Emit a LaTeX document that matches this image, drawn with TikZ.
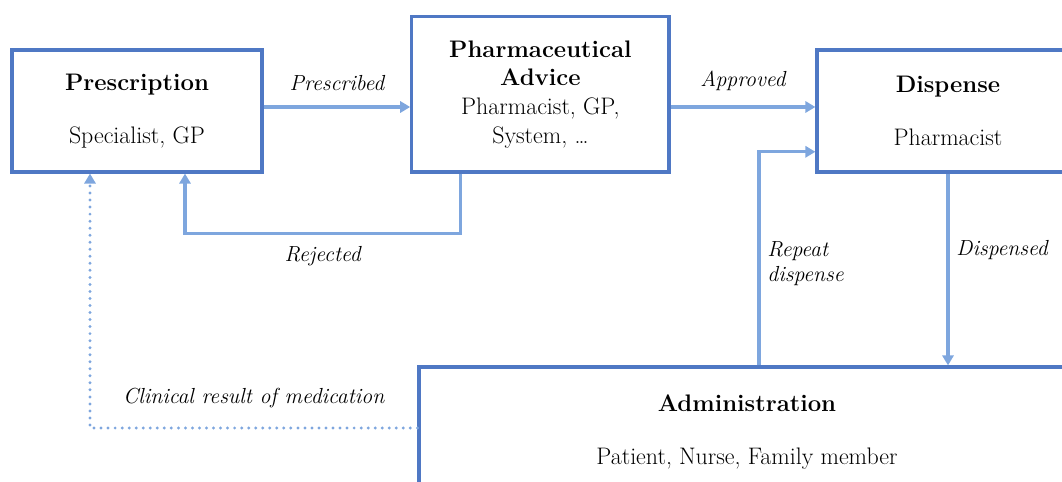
\documentclass[tikz,border=0pt]{standalone}
\usepackage{tikz}
\usetikzlibrary{arrows.meta, positioning, calc}
\usepackage{xcolor}
\definecolor{boxblue}{RGB}{79,120,196}
\definecolor{flowblue}{RGB}{126,166,222}

\begin{document}
\begin{tikzpicture}[
		stagebox/.style={draw=boxblue, line width=2.3pt, align=center, inner sep=0pt,
			font=\fontsize{17}{20.5}\selectfont},
		flow/.style={draw=flowblue, line width=2.3pt, -{Triangle[length=0.25cm,width=0.28cm]}},
		resultflow/.style={flow, line cap=round, dash pattern=on 0pt off 5pt},
		lbl/.style={font=\fontsize{15.5}{18}\selectfont\itshape, inner sep=2pt}
	]
		\useasboundingbox (0,0) rectangle (26.55cm,-12.05cm);
		\clip (0,0) rectangle (26.55cm,-12.05cm);

		\draw (3.425cm,-2.775cm) node[stagebox, minimum width=6.25cm, minimum height=3.05cm] (presc)
			{\textbf{Prescription}\\[17pt]Specialist, GP}
		(13.51cm,-2.36cm) node[stagebox, minimum width=6.43cm, minimum height=3.88cm] (advice)
			{\textbf{Pharmaceutical}\\\textbf{Advice}\\Pharmacist, GP,\\System, \ldots}
		(23.7cm,-2.775cm) node[stagebox, minimum width=6.55cm, minimum height=3.05cm] (disp)
			{\textbf{Dispense}\\[17pt]Pharmacist}
		(18.675cm,-10.8cm) node[stagebox, minimum width=16.4cm, minimum height=3.25cm] (admin)
			{\textbf{Administration}\\[17pt]Patient, Nurse, Family member};

		\draw[flow] ([yshift=0.1cm]presc.east) -- ([yshift=0.1cm]presc.east -| advice.west)
			node[lbl, midway, above=0.3cm] {Prescribed};
		\draw[flow] ([xshift=-2cm]advice.south) -- ++(0,-1.5cm) -| ([xshift=1.2cm]presc.south)
			node[lbl, pos=0.25, below=0.2cm] {Rejected};
		\draw[flow] ([yshift=0.1cm]advice.east |- disp.west) -- ([yshift=0.1cm]disp.west)
			node[lbl, midway, above=0.3cm] {Approved};
		\draw[flow] (disp.south) -- (disp.south |- admin.north)
			node[lbl, pos=0.4, right=0.1cm] {Dispensed};
		\draw[flow] ([xshift=0.3cm]admin.north) |- ([yshift=-1.02cm]disp.west)
			node[lbl, pos=0.25, right=0.1cm, yshift=-0.12cm, align=left] {Repeat\\dispense};
		\draw[resultflow] ([yshift=0.1cm]admin.west) -| ([xshift=-1.175cm]presc.south)
			node[lbl, pos=0.25, above=0.4cm] {Clinical result of medication};
	\end{tikzpicture}
\end{document}
